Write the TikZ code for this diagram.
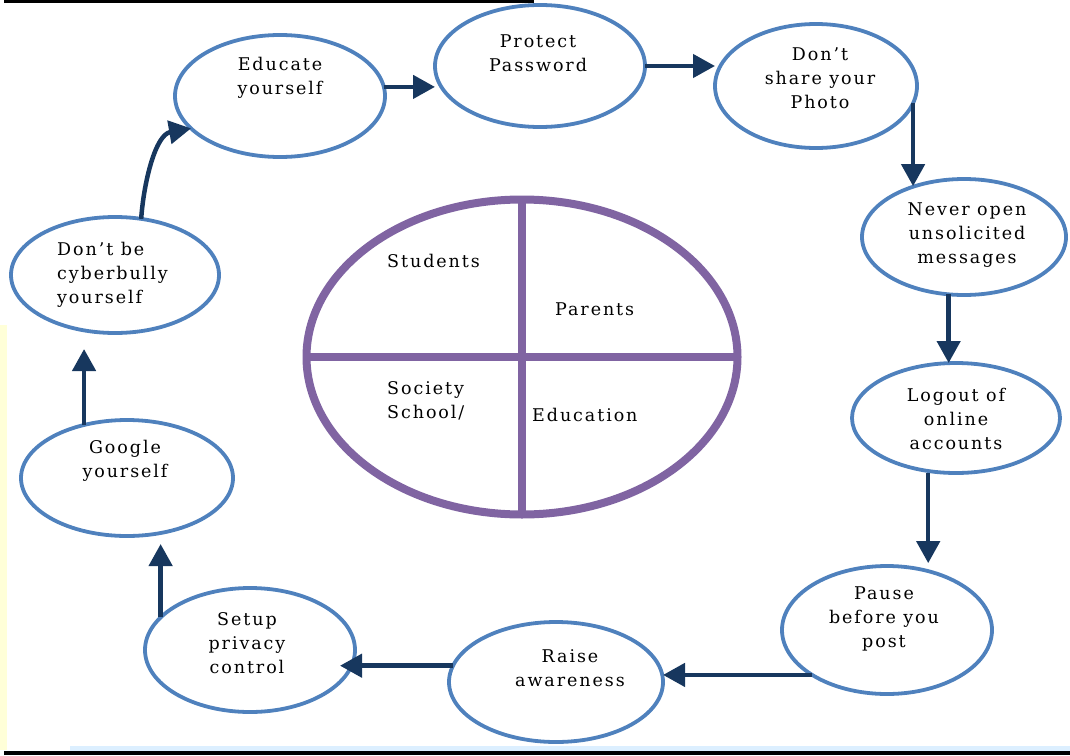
\documentclass[tikz,border=0pt]{standalone}
\usepackage{fontspec}
\setmainfont{DejaVu Serif}[LetterSpace=11]
\usetikzlibrary{shapes.geometric,arrows.meta}
\definecolor{ringblue}{HTML}{4F81BD}
\definecolor{arrownavy}{HTML}{17375E}
\definecolor{hubpurple}{HTML}{8064A2}
\definecolor{edgeyellow}{HTML}{FFFFD8}
\definecolor{edgecyan}{HTML}{DCEFFF}
\begin{document}
\begin{tikzpicture}[x=1pt,y=-1pt,
  ring/.style={ellipse, draw=ringblue, line width=3.8pt, inner sep=0pt, outer sep=0pt},
  hub/.style={ellipse, draw=hubpurple, line width=8pt, inner sep=0pt, outer sep=0pt},
  lbl/.style={align=center, inner sep=0pt, font=\fontsize{17.5}{24}\selectfont},
  lbll/.style={lbl, align=left, anchor=west},
  arr/.style={draw=arrownavy, line width=4.5pt, -{Triangle[length=22pt,width=23pt]}}]
\useasboundingbox (0,0) rectangle (1070,755);
% frame remnants
\fill[edgeyellow] (0,325) rectangle (7,750);
\fill[edgecyan] (70,746) rectangle (1070,751);
\fill[black] (4,0) rectangle (534,3);
\fill[black] (4,751) rectangle (1070,755);

% ring of tips (outer size minus stroke)
\node[ring, minimum width=210, minimum height=122] (edu)    at (280,96)  {};
\node[ring, minimum width=210, minimum height=122] (prot)   at (540,66)  {};
\node[ring, minimum width=202, minimum height=124] (photo)  at (816,86)  {};
\node[ring, minimum width=204, minimum height=116] (never)  at (964,237) {};
\node[ring, minimum width=208, minimum height=110] (logout) at (956,418) {};
\node[ring, minimum width=210, minimum height=128] (pause)  at (887,630) {};
\node[ring, minimum width=214, minimum height=120] (raise)  at (556,682) {};
\node[ring, minimum width=210, minimum height=124] (setup)  at (250,650) {};
\node[ring, minimum width=212, minimum height=116] (google) at (127,478) {};
\node[ring, minimum width=208, minimum height=116] (dontbe) at (115,275) {};

% texts of the tips
\node[lbl] (edu-t)    at (280,78)  {Educate\\yourself};
\node[lbl] (prot-t)   at (538,53)  {Protect\\Password};
\node[lbl] (photo-t)  at (820,78)  {Don’t\\share your\\Photo};
\node[lbl] (never-t)  at (967,235) {Never open\\unsolicited\\messages};
\node[lbl] (logout-t) at (956,419) {Logout of\\online\\accounts};
\node[lbl] (pause-t)  at (884,619) {Pause\\before you\\post};
\node[lbl] (raise-t)  at (570,668) {Raise\\awareness};
\node[lbl] (setup-t)  at (247,643) {Setup\\privacy\\control};
\node[lbl] (google-t) at (125,461) {Google\\yourself};
\node[lbll] (dontbe-t) at (57,275) {Don’t be\\cyberbully\\yourself};

% central hub
\node[hub, minimum width=431, minimum height=315] (centre) at (522,357) {};
\draw[hubpurple, line width=8pt] (centre.north) -- (centre.south);
\draw[hubpurple, line width=8pt] (centre.west) -- (centre.east);
\node[lbll] (students) at (387,261) {Students};
\node[lbll] (parents)  at (555,309) {Parents};
\node[lbll] (society)  at (387,401) {Society\\School/};
\node[lbll] (educ)     at (532,415) {Education};

% cycle of arrows
\draw[arr] (edu.5) -- (edu.5 -| prot.west);
\draw[arr] (prot.east) -- (prot.east -| photo.west);
\draw[arr] (photo.-10) -- (photo.-10 |- never.134);
\draw[arr] (never.-105) -- (never.-105 |- logout.north);
\draw[arr, shorten >=8pt] (logout.south -| pause.55) -- (pause.55);
\draw[arr] (pause.211) -- (pause.211 -| raise.east);
\draw[arr, shorten >=-15pt] (raise.171) -- (raise.171 -| setup.east);
\draw[arr, shorten >=8pt] (setup.160) -- (setup.160 |- google.south);
\draw[arr, shorten >=16pt] (google.129) -- (google.129 |- dontbe.south);
\draw[arr] (dontbe.65) to[out=86,in=190,looseness=0.9] (edu.200);
\end{tikzpicture}
\end{document}
